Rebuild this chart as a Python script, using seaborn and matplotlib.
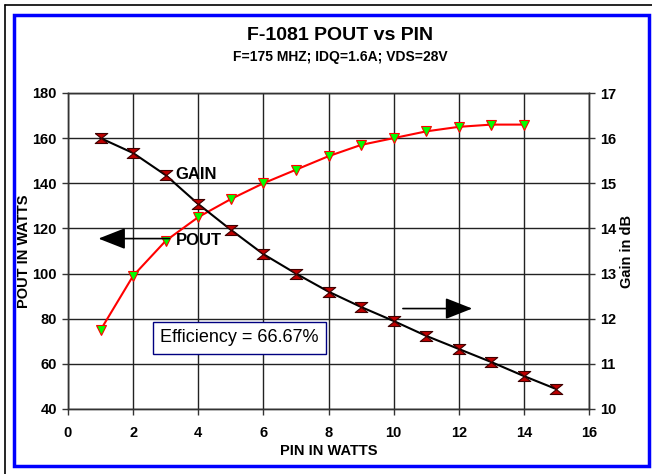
import numpy as np
import matplotlib
matplotlib.use("Agg")
import matplotlib.pyplot as plt
import seaborn as sns
from matplotlib.patches import Rectangle
from matplotlib.lines import Line2D

# Data
pin = [1, 2, 3, 4, 5, 6, 7, 8, 9, 10, 11, 12, 13, 14]
pout = [75, 99, 114.5, 125, 133, 140, 146, 152, 157, 160, 163, 165, 166, 166]
pin_gain = [1, 2, 3, 4, 5, 6, 7, 8, 9, 10, 11, 12, 13, 14, 15]
gain = [16.0, 15.67, 15.18, 14.54, 13.97, 13.43, 13.0, 12.6, 12.26, 11.95,
        11.62, 11.33, 11.04, 10.73, 10.44]

sns.set_theme(style="white")
plt.rcParams['font.family'] = ['Liberation Sans', 'DejaVu Sans']
plt.rcParams['text.color'] = 'black'
plt.rcParams['axes.labelcolor'] = 'black'
plt.rcParams['xtick.color'] = 'black'
plt.rcParams['ytick.color'] = 'black'

W, H = 652, 474
fig = plt.figure(figsize=(W / 100, H / 100), dpi=100)
ax = fig.add_axes([68 / W, 1 - 409 / H, (589 - 68) / W, (409 - 93) / H])
ax2 = ax.twinx()

# POUT curve (left axis)
sns.lineplot(x=pin, y=pout, ax=ax, color='red', lw=1.5, marker='v',
             markersize=7.5, markerfacecolor='#00ff00', markeredgecolor='red',
             markeredgewidth=0.8, zorder=5)

# gain curve (right axis) with hourglass markers
hourglass = [(-1, 0.8), (1, 0.8), (0, 0), (1, -0.8), (-1, -0.8), (0, 0), (-1, 0.8)]
sns.lineplot(x=pin_gain, y=gain, ax=ax2, color='black', lw=1.5, marker=hourglass,
             markersize=9, markerfacecolor='#c00000', markeredgecolor='#400000',
             markeredgewidth=0.8, zorder=5)

ax.set_xlim(0, 16)
ax.set_ylim(40, 180)
ax2.set_ylim(10, 17)
ax.set_xticks(np.arange(0, 17, 2))
ax.set_yticks(np.arange(40, 181, 20))
ax2.set_yticks(np.arange(10, 18, 1))

ax.grid(True, color='#222222', lw=1)
ax2.grid(False)
for a in (ax, ax2):
    for s in a.spines.values():
        s.set_color('#333333')
        s.set_linewidth(1)
    a.tick_params(axis='both', direction='out', length=4, width=1, color='#333333',
                  labelsize=10.5, pad=4)
    for lab in a.get_xticklabels() + a.get_yticklabels():
        lab.set_fontweight('bold')
ax.tick_params(axis='x', pad=8)
ax.tick_params(left=True, bottom=True)
ax2.tick_params(right=True)

ax.set_xlabel("PIN IN WATTS", fontsize=10.5, fontweight='bold', labelpad=3)
ax.set_ylabel("POUT IN WATTS", fontsize=10.5, fontweight='bold')
ax2.set_ylabel("Gain in dB", fontsize=10.5, fontweight='bold')
ax.yaxis.set_label_coords((31 - 68) / 521, 0.5)
ax2.yaxis.set_label_coords((620 - 68) / 521, 0.5)

# annotations
ax.text(3.3, 143.8, "GAIN", fontsize=12, fontweight='bold', va='center', ha='left', zorder=6)
ax.text(3.3, 114.5, "POUT", fontsize=12, fontweight='bold', va='center', ha='left', zorder=6)
ax.annotate("", xy=(0.85, 115.5), xytext=(3.2, 115.5),
            arrowprops=dict(arrowstyle='-|>,head_length=1.4,head_width=0.55',
                            color='black', lw=1.2), zorder=6)
ax.annotate("", xy=(12.5, 84.5), xytext=(10.2, 84.5),
            arrowprops=dict(arrowstyle='-|>,head_length=1.4,head_width=0.55',
                            color='black', lw=1.2), zorder=6)
ax.text(5.26, 71.5, "Efficiency = 66.67%", fontsize=13, ha='center', va='center',
        bbox=dict(boxstyle='square,pad=0.4', facecolor='white', edgecolor='#000080', lw=1),
        zorder=7)

# titles
fig.text(340 / W, 1 - 35 / H, "F-1081 POUT vs PIN", ha='center', va='center',
         fontsize=14, fontweight='bold')
fig.text(340 / W, 1 - 57 / H, "F=175 MHZ; IDQ=1.6A; VDS=28V", ha='center', va='center',
         fontsize=10, fontweight='bold')

# frames
fig.add_artist(Rectangle((14 / W, 1 - 466 / H), (649 - 14) / W, (466 - 15) / H,
                         transform=fig.transFigure, fill=False, edgecolor='#0000ff', lw=2.5))
fig.add_artist(Line2D([5 / W, 5 / W], [0, 1 - 5 / H], transform=fig.transFigure,
                      color='black', lw=1.2))
fig.add_artist(Line2D([5 / W, 1], [1 - 5 / H, 1 - 5 / H], transform=fig.transFigure,
                      color='black', lw=1.2))

fig.savefig("out.png", dpi=100)
